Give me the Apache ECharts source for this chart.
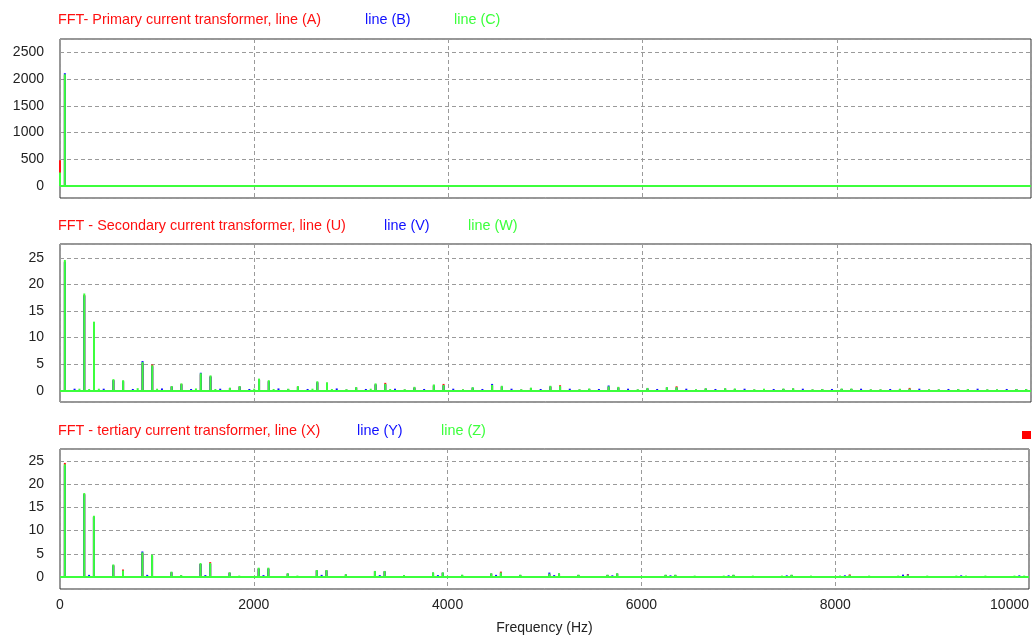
<!DOCTYPE html>
<html>
<head>
<meta charset="utf-8">
<title>FFT current transformers</title>
<script src="https://cdn.jsdelivr.net/npm/echarts@6/dist/echarts.min.js"></script>
<style>
  html, body { margin: 0; padding: 0; background: #ffffff; }
  #chart { width: 1032px; height: 637px; }
</style>
</head>
<body>
<div id="chart"></div>
<script>
// ---- Primary transformer spectrum (A) ----
const primaryFreq = [0, 50];
const primaryA = [480, 2070];
const primaryB = [30, 2110];
const primaryC = [250, 2090];

// ---- Characteristic harmonics (Hz) shared by secondary and tertiary ----
const harmonicFreq = [
  50, 250, 350, 550, 650, 850, 950, 1150, 1250, 1450, 1550, 1750, 1850, 2050, 2150,
  2350, 2450, 2650, 2750, 2950, 3050, 3250, 3350, 3550, 3650, 3850, 3950, 4150, 4250,
  4450, 4550, 4750, 4850, 5050, 5150, 5350, 5450, 5650, 5750, 5950, 6050, 6250, 6350,
  6550, 6650, 6850, 6950, 7150, 7250, 7450, 7550, 7750, 7850, 8050, 8150, 8350, 8450,
  8650, 8750, 8950, 9050, 9250, 9350, 9550, 9650, 9850, 9950
];

// ---- Secondary transformer (A) ----
const secondaryU = [
  24.3, 18.0, 12.8, 2.0, 1.8, 5.2, 4.95, 0.8, 1.3, 3.1, 2.7, 0.5, 0.8, 2.1, 1.8,
  0.3, 0.8, 1.6, 1.5, 0.2, 0.6, 1.2, 1.5, 0.2, 0.6, 1.0, 1.3, 0.2, 0.5,
  0.9, 0.8, 0.2, 0.5, 0.8, 1.05, 0.2, 0.35, 0.7, 0.6, 0.2, 0.4, 0.6, 0.85,
  0.2, 0.4, 0.4, 0.35, 0.2, 0.3, 0.35, 0.4, 0.2, 0.3, 0.35, 0.35, 0.2, 0.2,
  0.3, 0.55, 0.2, 0.2, 0.3, 0.3, 0.2, 0.2, 0.3, 0.3
];
const secondaryV = [
  24.2, 17.9, 12.7, 2.0, 1.8, 5.6, 4.6, 0.8, 1.2, 3.4, 2.7, 0.5, 0.8, 2.1, 1.8,
  0.3, 0.7, 1.6, 1.4, 0.2, 0.6, 1.2, 1.2, 0.2, 0.6, 1.0, 1.0, 0.2, 0.6,
  1.3, 0.8, 0.2, 0.5, 0.8, 0.8, 0.2, 0.35, 1.0, 0.6, 0.2, 0.45, 0.6, 0.6,
  0.2, 0.4, 0.4, 0.35, 0.2, 0.3, 0.35, 0.4, 0.2, 0.3, 0.35, 0.35, 0.2, 0.2,
  0.3, 0.3, 0.2, 0.2, 0.3, 0.3, 0.2, 0.2, 0.3, 0.3
];
const secondaryW = [
  24.6, 18.3, 13.0, 2.2, 2.0, 5.4, 4.8, 0.9, 1.4, 3.3, 2.9, 0.6, 0.9, 2.3, 2.0,
  0.4, 0.9, 1.8, 1.6, 0.3, 0.7, 1.4, 1.3, 0.3, 0.75, 1.2, 1.1, 0.3, 0.7,
  1.1, 0.95, 0.3, 0.6, 0.95, 0.9, 0.3, 0.45, 0.85, 0.75, 0.3, 0.55, 0.7, 0.7,
  0.3, 0.5, 0.5, 0.45, 0.3, 0.4, 0.45, 0.5, 0.3, 0.35, 0.45, 0.45, 0.3, 0.3,
  0.4, 0.4, 0.3, 0.3, 0.35, 0.35, 0.3, 0.3, 0.35, 0.35
];
// small triplen components (line V)
const secondaryTriplenFreq = [
  150, 450, 750, 1050, 1350, 1650, 1950, 2250, 2550, 2850, 3150, 3450, 3750, 4050,
  4350, 4650, 4950, 5250, 5550, 5850, 6150, 6450, 6750, 7050, 7350, 7650, 7950,
  8250, 8550, 8850, 9150, 9450, 9750
];
const secondaryTriplenV = [
  0.4, 0.4, 0.35, 0.45, 0.35, 0.4, 0.35, 0.45, 0.35, 0.45, 0.35, 0.4, 0.35, 0.4,
  0.35, 0.4, 0.35, 0.4, 0.35, 0.4, 0.35, 0.4, 0.35, 0.4, 0.35, 0.4, 0.35,
  0.4, 0.35, 0.4, 0.35, 0.4, 0.35
];
// small even components (line W)
const secondaryEvenFreq = [200, 300, 400, 800, 1000, 1400, 1600, 2000, 2200, 2600, 2800, 3200, 3400];
const secondaryEvenW = [0.4, 0.35, 0.4, 0.5, 0.4, 0.45, 0.35, 0.4, 0.35, 0.4, 0.35, 0.4, 0.35];

// ---- Tertiary transformer (A) ----
const tertiaryX = [
  24.6, 17.9, 13.0, 2.5, 1.6, 5.1, 4.6, 1.0, 0.3, 2.8, 3.2, 0.9, 0.2, 1.8, 1.8,
  0.7, 0.2, 1.4, 1.4, 0.5, 0.1, 1.2, 1.2, 0.3, 0.1, 0.9, 0.9, 0.4, 0.1,
  0.7, 1.15, 0.4, 0.1, 0.6, 0.7, 0.4, 0.1, 0.4, 0.7, 0.15, 0.1, 0.4, 0.4,
  0.2, 0.1, 0.2, 0.4, 0.2, 0.1, 0.2, 0.4, 0.2, 0.1, 0.2, 0.55, 0.2, 0.1,
  0.2, 0.6, 0.2, 0.1, 0.2, 0.2, 0.2, 0.1, 0.2, 0.2
];
const tertiaryY = [
  24.0, 17.8, 12.9, 2.5, 1.3, 5.5, 4.6, 1.0, 0.3, 2.8, 2.8, 0.9, 0.2, 1.8, 1.8,
  0.7, 0.2, 1.4, 1.4, 0.5, 0.1, 1.2, 1.2, 0.3, 0.1, 0.9, 0.9, 0.4, 0.1,
  0.7, 0.85, 0.4, 0.1, 0.95, 0.7, 0.4, 0.1, 0.4, 0.7, 0.15, 0.1, 0.4, 0.4,
  0.2, 0.1, 0.2, 0.4, 0.2, 0.1, 0.2, 0.4, 0.2, 0.1, 0.2, 0.35, 0.2, 0.1,
  0.2, 0.5, 0.2, 0.1, 0.2, 0.2, 0.2, 0.1, 0.2, 0.2
];
const tertiaryZ = [
  24.3, 18.1, 13.2, 2.7, 1.4, 5.3, 4.8, 1.15, 0.4, 3.0, 3.0, 1.0, 0.3, 2.0, 2.0,
  0.8, 0.3, 1.5, 1.5, 0.6, 0.2, 1.3, 1.3, 0.4, 0.2, 1.0, 1.0, 0.5, 0.15,
  0.8, 0.95, 0.5, 0.15, 0.7, 0.8, 0.5, 0.1, 0.5, 0.8, 0.2, 0.1, 0.5, 0.5,
  0.3, 0.1, 0.3, 0.5, 0.3, 0.1, 0.3, 0.5, 0.3, 0.1, 0.3, 0.4, 0.3, 0.1,
  0.3, 0.4, 0.3, 0.1, 0.3, 0.3, 0.3, 0.1, 0.3, 0.3
];
// small 6th-order components (line Y)
const tertiarySmallFreq = [300, 900, 1500, 2100, 2700, 3300, 3900, 4500, 5100, 5700, 6300, 6900, 7500, 8100, 8700, 9300, 9900];
const tertiarySmallY = [0.45, 0.45, 0.4, 0.4, 0.45, 0.4, 0.4, 0.45, 0.4, 0.35, 0.35, 0.35, 0.35, 0.35, 0.5, 0.35, 0.35];

// ---- Axis ticks ----
const freqTicks = { min: 0, max: 10000, interval: 2000 };

// ---- Panel headings ----
const panelTitles = [
  ['FFT- Primary current transformer, line (A)', 'line (B)', 'line (C)'],
  ['FFT - Secondary current transformer, line (U)', 'line (V)', 'line (W)'],
  ['FFT - tertiary current transformer, line (X)', 'line (Y)', 'line (Z)']
];

const RED = '#ff1010';
const BLUE = '#1010ff';
const GREEN = '#3cff3c';
const FONT = '"Liberation Sans", Arial, sans-serif';

function pairs(freqs, vals) {
  return freqs.map((f, i) => [f, vals[i]]);
}

function plain(v) {
  return String(v);
}

function spikes(color, data, idx, baseline) {
  const s = {
    type: 'bar',
    xAxisIndex: idx,
    yAxisIndex: idx,
    data: data,
    barWidth: 2,
    barGap: '-100%',
    itemStyle: { color: color },
    silent: true,
    animation: false
  };
  if (baseline) {
    s.markLine = {
      silent: true,
      symbol: 'none',
      label: { show: false },
      lineStyle: { color: GREEN, width: 2, type: 'solid' },
      data: [{ yAxis: 0 }]
    };
  }
  return s;
}

const grids = [
  { left: 60, top: 39, width: 971, height: 159 },
  { left: 60, top: 244, width: 971, height: 158 },
  { left: 60, top: 449, width: 971, height: 140 }
].map(g => Object.assign(g, { show: true, borderColor: '#2e2e2e', borderWidth: 1, backgroundColor: '#ffffff' }));

const dashed = { show: true, lineStyle: { color: '#9a9a9a', width: 1, type: [4, 3] } };

const xAxes = [0, 1, 2].map(i => ({
  type: 'value',
  gridIndex: i,
  min: freqTicks.min,
  max: freqTicks.max,
  interval: freqTicks.interval,
  axisLine: { show: false },
  axisTick: { show: false },
  splitLine: dashed,
  axisLabel: {
    show: i === 2,
    color: '#222',
    fontSize: 14,
    fontFamily: FONT,
    margin: 9,
    alignMaxLabel: 'right',
    formatter: plain
  },
  name: i === 2 ? 'Frequency (Hz)' : '',
  nameLocation: 'middle',
  nameGap: 32,
  nameTextStyle: { color: '#222', fontSize: 14, fontFamily: FONT }
}));

const yRanges = [
  { min: -225, max: 2750 },
  { min: -2.1, max: 27.6 },
  { min: -2.6, max: 27.6 }
];

const yAxes = yRanges.map((r, i) => ({
  type: 'value',
  gridIndex: i,
  min: r.min,
  max: r.max,
  splitNumber: 6,
  axisLine: { show: false },
  axisTick: { show: false },
  splitLine: dashed,
  axisLabel: {
    color: '#222',
    fontSize: 14,
    fontFamily: FONT,
    margin: 16,
    showMinLabel: false,
    showMaxLabel: false,
    formatter: plain
  }
}));

const series = [
  spikes(RED, pairs(primaryFreq, primaryA), 0),
  spikes(BLUE, pairs(primaryFreq, primaryB), 0),
  spikes(GREEN, pairs(primaryFreq, primaryC), 0, true),

  spikes(RED, pairs(harmonicFreq, secondaryU), 1),
  spikes(BLUE, pairs(harmonicFreq, secondaryV).concat(pairs(secondaryTriplenFreq, secondaryTriplenV)), 1),
  spikes(GREEN, pairs(harmonicFreq, secondaryW).concat(pairs(secondaryEvenFreq, secondaryEvenW)), 1, true),

  spikes(RED, pairs(harmonicFreq, tertiaryX), 2),
  spikes(BLUE, pairs(harmonicFreq, tertiaryY).concat(pairs(tertiarySmallFreq, tertiarySmallY)), 2),
  spikes(GREEN, pairs(harmonicFreq, tertiaryZ), 2, true)
];

// heading positions: [red x, blue x, green x, centre y]
const headingPos = [
  [58, 365, 454, 20],
  [58, 384, 468, 226],
  [58, 357, 441, 431]
];
const graphics = [];
panelTitles.forEach((t, i) => {
  const p = headingPos[i];
  [RED, BLUE, GREEN].forEach((c, k) => {
    graphics.push({
      type: 'text',
      x: p[k],
      y: p[3],
      silent: true,
      style: {
        text: t[k],
        fill: c,
        font: '14.4px ' + FONT,
        verticalAlign: 'middle',
        align: 'left'
      }
    });
  });
});
// status marker
graphics.push({
  type: 'rect',
  shape: { x: 1022, y: 431, width: 9, height: 8 },
  style: { fill: '#ff0000' },
  silent: true
});

const chart = echarts.init(document.getElementById('chart'), null, { renderer: 'canvas' });
chart.setOption({
  animation: false,
  backgroundColor: '#ffffff',
  grid: grids,
  xAxis: xAxes,
  yAxis: yAxes,
  series: series,
  graphic: graphics
});
</script>
</body>
</html>
